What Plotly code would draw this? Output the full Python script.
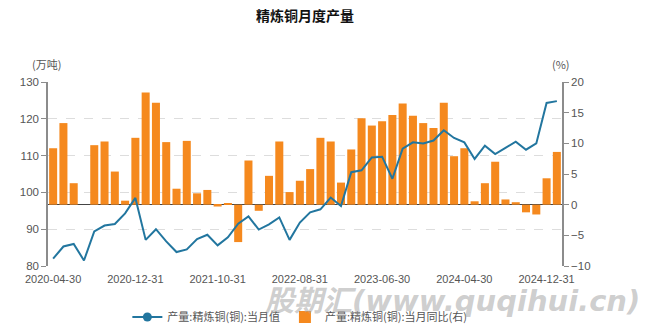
import plotly.graph_objects as go

# Categories (Jan/Feb not reported separately)
dates = [
    "2020-04-30", "2020-05-31", "2020-06-30", "2020-07-31", "2020-08-31", "2020-09-30",
    "2020-10-31", "2020-11-30", "2020-12-31",
    "2021-03-31", "2021-04-30", "2021-05-31", "2021-06-30", "2021-07-31", "2021-08-31",
    "2021-09-30", "2021-10-31", "2021-11-30", "2021-12-31",
    "2022-03-31", "2022-04-30", "2022-05-31", "2022-06-30", "2022-07-31", "2022-08-31",
    "2022-09-30", "2022-10-31", "2022-11-30", "2022-12-31",
    "2023-03-31", "2023-04-30", "2023-05-31", "2023-06-30", "2023-07-31", "2023-08-31",
    "2023-09-30", "2023-10-31", "2023-11-30", "2023-12-31",
    "2024-03-31", "2024-04-30", "2024-05-31", "2024-06-30", "2024-07-31", "2024-08-31",
    "2024-09-30", "2024-10-31", "2024-11-30", "2024-12-31",
    "2025-02-28",
]

# Monthly output (10k tonnes), left axis
output = [
    82.0, 85.3, 86.0, 81.5, 89.4, 91.0, 91.4, 94.3, 98.5,
    87.1, 90.0, 86.7, 83.8, 84.5, 87.3, 88.5, 85.6, 87.8, 91.5,
    93.5, 89.9, 91.3, 93.2, 87.1, 91.8, 94.6, 95.4, 98.6, 96.3,
    105.5, 106.0, 109.5, 109.7, 103.7, 111.9, 113.6, 113.3, 114.1, 116.9,
    114.8, 113.6, 109.1, 112.7, 110.4, 112.1, 113.8, 111.6, 113.3, 124.3,
    124.8,
]

# Year-on-year change (%), right axis
yoy = [
    9.2, 13.3, 3.5, None, 9.7, 10.3, 5.4, 0.65, 10.9,
    18.3, 16.6, 10.2, 2.6, 10.4, 1.85, 2.4, -0.3, 0.2, -6.1,
    7.2, -1.0, 4.7, 10.3, 2.05, 3.9, 5.8, 10.9, 10.3, 3.6,
    9.0, 14.1, 12.9, 13.6, 14.6, 16.5, 14.5, 13.3, 12.5, 16.6,
    7.9, 9.2, 0.55, 3.5, 7.0, 0.85, 0.4, -1.25, -1.6, 4.3,
    8.6,
]

tick_vals = dates[::8]

title_text = "精炼铜月度产量"
line_name = "产量:精炼铜(铜):当月值"
bar_name = "产量:精炼铜(铜):当月同比(右)"
left_unit = "(万吨)"
right_unit = "(%)"
watermark = "股期汇(www.quqihui.cn)"

LINE_C = "#22769F"
BAR_C = "#F5891E"
TXT_C = "#555555"
FONT = "Liberation Sans, Arial, Noto Sans CJK SC, sans-serif"
CJK = "Noto Sans CJK SC, sans-serif"

fig = go.Figure()

# legend-only line entry (line with marker)
fig.add_trace(go.Scatter(
    x=[dates[0]], y=[None], mode="lines+markers", name=line_name,
    line=dict(color=LINE_C, width=2), marker=dict(color=LINE_C, size=9),
    yaxis="y2", showlegend=True,
))

fig.add_trace(go.Bar(
    x=dates, y=yoy, name=bar_name, marker=dict(color=BAR_C, line=dict(width=0)),
    yaxis="y",
))

fig.add_trace(go.Scatter(
    x=dates, y=output, mode="lines", name=line_name,
    line=dict(color=LINE_C, width=2), yaxis="y2", showlegend=False,
))

fig.update_layout(
    width=662, height=331,
    margin=dict(l=48, r=100, t=82, b=65, autoexpand=False),
    plot_bgcolor="white", paper_bgcolor="white",
    bargap=0.22,
    title=dict(text="<b>" + title_text + "</b>", x=0.5, xref="paper",
               y=1 - 16.5 / 331, yref="container", yanchor="middle",
               font=dict(family=CJK, size=14, color="#111111")),
    xaxis=dict(
        type="category", categoryorder="array", categoryarray=dates,
        tickmode="array", tickvals=tick_vals, ticktext=tick_vals,
        showgrid=False, showline=False, ticks="", zeroline=False,
        tickfont=dict(family=FONT, size=11, color=TXT_C),
        ticklabelstandoff=5,
        range=[-0.5, len(dates) - 0.5], automargin=False,
    ),
    yaxis=dict(
        side="right", range=[-10, 20], dtick=5, tick0=0,
        showgrid=False, zeroline=True, zerolinecolor="#444444", zerolinewidth=1,
        showline=True, linecolor="#8c8c8c", linewidth=1.5,
        ticks="outside", ticklen=5, tickcolor="#8c8c8c",
        tickfont=dict(family=FONT, size=11.5, color=TXT_C), automargin=False,
    ),
    yaxis2=dict(
        side="left", overlaying="y", range=[80, 130], dtick=10, tick0=80,
        showgrid=True, gridcolor="#dddddd", griddash="dash", gridwidth=1,
        zeroline=False,
        showline=True, linecolor="#8c8c8c", linewidth=1.5,
        ticks="outside", ticklen=5, tickcolor="#8c8c8c",
        tickfont=dict(family=FONT, size=11.5, color=TXT_C), automargin=False,
    ),
    legend=dict(orientation="h", x=0.49, xanchor="center",
                yref="container", y=1 - 317 / 331, yanchor="middle",
                font=dict(family=CJK, size=11, color=TXT_C),
                bgcolor="rgba(0,0,0,0)", traceorder="normal"),
    showlegend=True,
)

fig.add_annotation(text=left_unit, xref="paper", yref="paper", x=-0.003, y=1.1,
                   xanchor="center", yanchor="middle", showarrow=False,
                   font=dict(family=CJK, size=11, color=TXT_C))
fig.add_annotation(text=right_unit, xref="paper", yref="paper", x=0.998, y=1.1,
                   xanchor="center", yanchor="middle", showarrow=False,
                   font=dict(family=CJK, size=11, color=TXT_C))
fig.add_annotation(text="<b><i>" + watermark + "</i></b>", xref="paper", yref="paper",
                   x=0.787, y=-0.19, xanchor="center", yanchor="middle", showarrow=False,
                   font=dict(family="DejaVu Sans, Noto Sans CJK SC, sans-serif", size=29,
                             color="rgba(165,165,165,0.55)"))

fig.write_html("out.html")
